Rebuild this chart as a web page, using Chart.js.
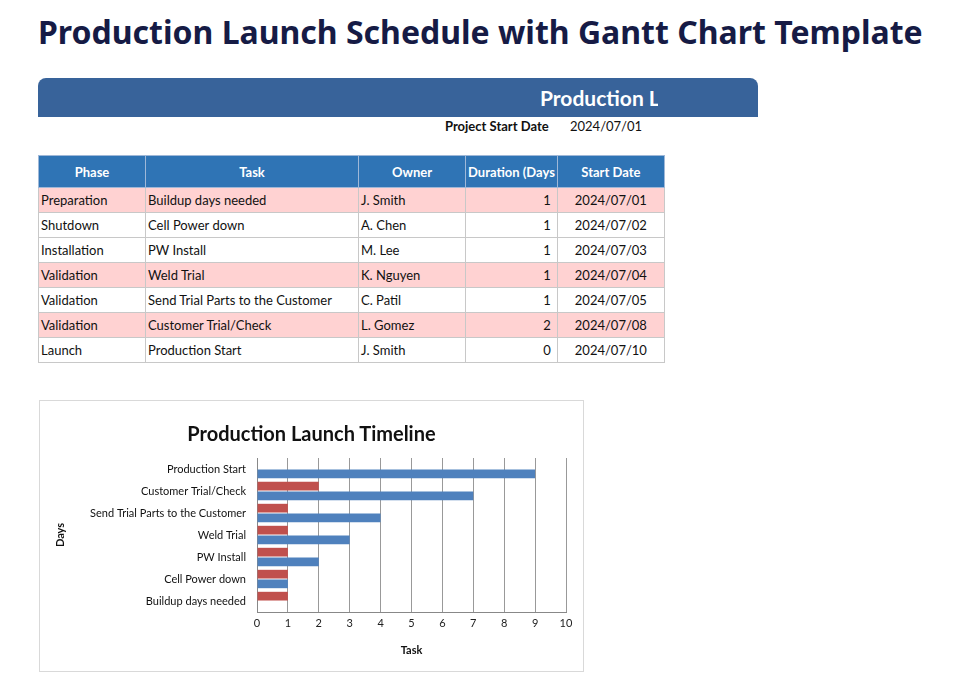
<!DOCTYPE html>
<html><head><meta charset="utf-8">
<script src="https://cdn.jsdelivr.net/npm/chart.js@4"></script>
<style>
body{margin:0;background:#fff;font-family:Lato,"Noto Sans",sans-serif;width:960px;height:697px;position:relative;overflow:hidden}
#title{position:absolute;left:38px;top:10px;font-family:"Noto Sans";font-weight:700;font-size:32px;color:#161b45;white-space:nowrap}
#banner{position:absolute;left:38px;top:78px;width:720px;height:39px;background:#38639a;border-radius:8px 8px 0 0;overflow:hidden}
#banner span{position:absolute;left:502px;top:7px;color:#fff;font-weight:700;font-size:21px;white-space:nowrap;width:118px;overflow:hidden}
#psd{position:absolute;left:445px;top:118px;font-size:13px;font-weight:700;color:#111}
#psdv{position:absolute;left:570px;top:118px;font-size:13px;color:#111}
table{position:absolute;left:38px;top:155px;border-collapse:collapse;font-size:13px;color:#111}
td,th{border:1px solid #c8c8c8;height:24px;padding:0 2px;white-space:nowrap;overflow:hidden}
th{background:#2f74b5;color:#fff;height:31px;font-weight:700;border-color:#9fb8d8}
tr.p td{background:#ffd2d2}
td.r{text-align:right;padding-right:6px}
td.c{text-align:center}
#box{position:absolute;left:39px;top:400px;width:543px;height:270px;border:1px solid #d9d9d9}
#ctitle{position:absolute;left:0;width:543px;top:20px;text-align:center;font-weight:700;font-size:20px;color:#111}
</style></head><body>
<div id="title">Production Launch Schedule with Gantt Chart Template</div>
<div id="banner"><span>Production Launch</span></div>
<div id="psd">Project Start Date</div><div id="psdv">2024/07/01</div>
<table id="tbl"><colgroup><col style="width:107px"><col style="width:213px"><col style="width:107px"><col style="width:85px"><col style="width:107px"></colgroup>
<tr><th>Phase</th><th>Task</th><th>Owner</th><th style="text-align:right">Duration (Days</th><th>Start Date</th></tr></table>
<div id="box"><canvas id="c" width="543" height="270"></canvas><div id="ctitle">Production Launch Timeline</div></div>
<script>
const phases=["Preparation","Shutdown","Installation","Validation","Validation","Validation","Launch"];
const tasks=["Buildup days needed","Cell Power down","PW Install","Weld Trial","Send Trial Parts to the Customer","Customer Trial/Check","Production Start"];
const owners=["J. Smith","A. Chen","M. Lee","K. Nguyen","C. Patil","L. Gomez","J. Smith"];
const durations=[1,1,1,1,1,2,0];
const startDates=["2024/07/01","2024/07/02","2024/07/03","2024/07/04","2024/07/05","2024/07/08","2024/07/10"];
const startDays=[0,1,2,3,4,7,9];
const pinkRows=[0,3,5];
const xTicks=[0,1,2,3,4,5,6,7,8,9,10];

const tbl=document.getElementById('tbl');
tasks.forEach((t,i)=>{const tr=document.createElement('tr');if(pinkRows.includes(i))tr.className='p';
tr.innerHTML=`<td>${phases[i]}</td><td>${t}</td><td>${owners[i]}</td><td class="r">${durations[i]}</td><td class="c">${startDates[i]}</td>`;tbl.appendChild(tr);});

const labels=tasks.slice().reverse();
new Chart(document.getElementById('c'),{type:'bar',
data:{labels:labels,datasets:[
{label:'Duration',data:durations.slice().reverse(),backgroundColor:'#c0504d',barPercentage:0.9,categoryPercentage:0.88},
{label:'Start',data:startDays.slice().reverse(),backgroundColor:'#4f81bd',barPercentage:0.9,categoryPercentage:0.88}]},
options:{indexAxis:'y',responsive:false,animation:false,
layout:{padding:{top:57,left:10,right:17,bottom:10}},
plugins:{legend:{display:false},title:{display:false},tooltip:{enabled:false}},
scales:{
x:{min:0,max:10,afterBuildTicks:s=>{s.ticks=xTicks.map(v=>({value:v}));},grid:{color:'#999',drawTicks:false},border:{color:'#888'},
 ticks:{color:'#222',font:{family:'Lato',size:11},padding:5},
 title:{display:true,text:'Task',color:'#111',font:{family:'Lato',size:11,weight:'bold'},padding:{top:8}},
 afterFit:s=>{s.height=49;}},
y:{grid:{display:false},border:{color:'#888'},ticks:{color:'#111',font:{family:'Lato',size:11},padding:3},
 title:{display:true,text:'Days',color:'#111',font:{family:'Lato',size:11,weight:'bold'}},
 afterFit:s=>{s.width=207;}}
}}});
</script></body></html>
